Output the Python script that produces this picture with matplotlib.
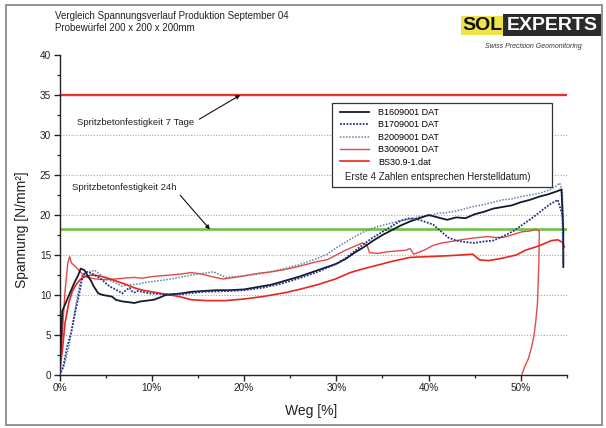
import matplotlib
matplotlib.use('Agg')
import matplotlib.pyplot as plt
from matplotlib.patches import Rectangle
from matplotlib.lines import Line2D
from matplotlib.ticker import MultipleLocator, FuncFormatter

plt.rcParams['font.family'] = ['Liberation Sans', 'DejaVu Sans']

# ---------------- data ----------------
title_line1 = "Vergleich Spannungsverlauf Produktion September 04"
title_line2 = "Probewürfel 200 x 200 x 200mm"
series_names = ["B1609001 DAT", "B1709001 DAT", "B2009001 DAT", "B3009001 DAT", "BS30.9-1.dat"]
legend_note = "Erste 4 Zahlen entsprechen Herstelldatum)"

b1609_x = [0, 0.3, 0.6, 1.0, 1.3, 1.6, 2.0, 2.3, 2.7, 3.0, 3.4, 3.7, 4.2, 4.7, 5.2, 5.7, 6.1, 6.8, 7.5,
           8.1, 8.8, 9.5, 10.2, 10.9, 11.5, 12.3, 13.2, 14.3, 15.6, 17.0, 18.4, 20.0, 21.5, 23.0, 24.5,
           26.0, 27.5, 29.0, 30.0, 31.0, 32.0, 33.0, 34.0, 35.0, 36.0, 37.0, 38.0, 39.0, 40.0, 41.0,
           42.0, 43.0, 44.0, 45.0, 46.0, 47.0, 48.0, 49.0, 50.0, 51.0, 52.0, 53.0, 54.0, 54.4, 54.6, 54.6]
b1609_y = [0, 8.0, 8.8, 9.9, 10.7, 11.5, 12.4, 13.3, 13.1, 12.5, 11.8, 11.1, 10.2, 10.0, 9.9, 9.8, 9.4,
           9.2, 9.1, 9.0, 9.2, 9.3, 9.4, 9.7, 10.0, 10.1, 10.2, 10.4, 10.5, 10.6, 10.6, 10.7, 11.0, 11.3,
           11.8, 12.3, 12.9, 13.5, 13.9, 14.5, 15.3, 16.0, 16.8, 17.5, 18.1, 18.7, 19.2, 19.6, 20.0, 19.7,
           19.4, 19.7, 19.6, 20.1, 20.4, 20.8, 21.0, 21.2, 21.6, 21.9, 22.3, 22.6, 23.0, 23.2, 18.0, 13.5]

b1709_x = [0, 0.4, 0.8, 1.3, 1.8, 2.2, 2.5, 3.0, 3.5, 4.4, 5.4, 6.4, 6.8, 7.2, 7.6, 7.9, 8.1, 8.5, 9.8,
           11.5, 13.2, 15.6, 18.4, 20, 22, 24, 26, 28, 30, 31, 32, 33, 34, 35, 36, 37, 38, 39, 40, 40.5,
           41.3, 42.1, 43, 44.1, 45, 46, 47, 48, 49.2, 50.2, 51.2, 52.2, 53.1, 54.0, 54.5, 54.6]
b1709_y = [0, 1.0, 3.4, 5.5, 8.4, 10.5, 12.5, 12.9, 12.7, 12.1, 11.1, 10.5, 10.2, 10.6, 10.9, 10.4, 10.3,
           10.5, 10.2, 10.1, 10.1, 10.4, 10.5, 10.6, 10.9, 11.4, 12.1, 12.9, 13.9, 14.6, 15.5, 16.4, 17.2,
           17.9, 18.6, 19.3, 19.6, 19.4, 19.0, 18.8, 18.0, 17.2, 16.8, 16.6, 16.5, 16.7, 16.8, 17.3, 18.0,
           18.8, 19.6, 20.5, 21.3, 21.9, 20.0, 14.0]

b2009_x = [0, 0.5, 1.0, 1.6, 2.2, 2.7, 3.3, 3.8, 4.7, 5.5, 6.1, 6.8, 7.5, 8.1, 9.5, 11.5, 13.0, 14.3,
           15.5, 16.7, 18.0, 20, 22, 24, 26, 28, 29, 30, 31, 32, 33, 34, 35, 36, 37, 38, 39, 40, 41, 42,
           43, 44, 45, 46, 47, 48, 49, 50, 51, 52, 53, 53.7, 54.2, 54.5, 54.6]
b2009_y = [0, 1.2, 3.4, 7.6, 11.3, 12.7, 12.9, 13.1, 12.3, 11.8, 11.5, 11.1, 11.3, 11.3, 11.6, 11.9,
           12.2, 12.5, 12.7, 12.9, 12.2, 12.4, 12.7, 13.2, 13.8, 14.6, 15.1, 15.9, 16.6, 17.3, 17.9, 18.4,
           18.7, 19.0, 19.3, 19.5, 19.8, 19.9, 20.2, 20.3, 20.5, 20.8, 21.1, 21.3, 21.6, 21.9, 22.0, 22.3,
           22.5, 22.7, 23.1, 23.5, 24.0, 23.0, 17.0]

b3009_x = [0, 0.3, 0.6, 0.9, 1.1, 1.3, 1.6, 2.0, 2.5, 3.0, 4.0, 5.0, 6.0, 7.0, 8.0, 9.0, 10.0, 11.0,
           12.0, 13.0, 14.3, 15.5, 16.5, 17.7, 19.0, 20.0, 21.5, 23.0, 24.5, 26.0, 28.0, 29.0, 30.0, 31.0,
           32.0, 32.8, 33.3, 33.6, 34.5, 35.5, 36.5, 37.5, 38.0, 38.4, 39.5, 40.5, 41.4, 42.5, 43.5, 44.7,
           45.5, 46.4, 47.2, 48.1, 49.0, 50.1, 51.0, 51.6, 52.0, 51.95, 51.8, 51.6, 51.4, 51.1, 50.8,
           50.4, 50.1]
b3009_y = [0, 5.0, 10.5, 14.0, 14.8, 14.0, 13.7, 13.2, 12.6, 12.2, 12.0, 11.9, 12.0, 12.1, 12.2, 12.1,
           12.3, 12.4, 12.5, 12.6, 12.8, 12.6, 12.3, 12.0, 12.2, 12.4, 12.7, 12.9, 13.2, 13.6, 14.2, 14.4,
           15.0, 15.6, 16.1, 16.5, 16.3, 15.3, 15.2, 15.4, 15.5, 15.6, 15.8, 15.1, 15.6, 16.2, 16.5, 16.7,
           16.9, 17.1, 17.2, 17.3, 17.2, 17.2, 17.5, 17.9, 18.0, 18.2, 18.0, 14.0, 9.0, 6.5, 4.8, 3.2, 2.0,
           1.0, 0.0]

bs309_x = [0, 0.3, 0.6, 1.0, 1.4, 1.8, 2.3, 2.8, 3.5, 4.2, 5.0, 6.0, 7.0, 8.1, 9.0, 10.0, 11.0, 12.0,
           13.0, 14.3, 16.0, 18.0, 20.0, 22.0, 24.5, 26.0, 28.0, 29.9, 31.5, 33.0, 34.7, 36.0, 38.0, 40.0,
           42.0, 43.5, 44.8, 45.5, 46.5, 48.0, 49.5, 50.5, 51.6, 52.5, 53.3, 54.0, 54.5, 54.7]
bs309_y = [0, 3.0, 6.5, 9.0, 10.5, 11.3, 12.0, 12.3, 12.5, 12.4, 12.2, 11.8, 11.4, 10.9, 10.6, 10.4,
           10.2, 10.0, 9.8, 9.4, 9.3, 9.3, 9.5, 9.8, 10.3, 10.7, 11.3, 12.0, 12.8, 13.3, 13.8, 14.2, 14.7,
           14.8, 14.9, 15.0, 15.1, 14.4, 14.3, 14.6, 15.0, 15.6, 16.0, 16.4, 16.8, 16.9, 16.6, 16.0]

limit_7d = 35.0
limit_24h = 18.2
label_7d = "Spritzbetonfestigkeit 7 Tage"
label_24h = "Spritzbetonfestigkeit 24h"
x_ticks = [0, 10, 20, 30, 40, 50]
y_ticks = [0, 5, 10, 15, 20, 25, 30, 35, 40]
grid_levels = [5, 10, 15, 20, 25, 30]

# ---------------- figure ----------------
W, H = 606, 428
fig = plt.figure(figsize=(W / 100, H / 100), dpi=100)
fig.patch.set_facecolor('white')

# outer frame
fig.patches.append(Rectangle((6 / W, 1 - 425 / H), 596 / W, 420 / H, transform=fig.transFigure,
                             fill=False, edgecolor='#8a8a8a', lw=1.3))

ax = fig.add_axes([59.5 / W, 1 - 375 / H, 507.5 / W, 320 / H])
ax.set_xlim(0, 55)
ax.set_ylim(0, 40)

for s in ['top', 'right']:
    ax.spines[s].set_visible(False)
for s in ['left', 'bottom']:
    ax.spines[s].set_linewidth(1.0)
    ax.spines[s].set_color('#222222')

ax.set_xticks(x_ticks)
ax.set_yticks(y_ticks)
ax.xaxis.set_minor_locator(MultipleLocator(5))
ax.yaxis.set_minor_locator(MultipleLocator(2.5))
ax.xaxis.set_major_formatter(FuncFormatter(lambda v, p: f"{v:.0f}%"))
ax.tick_params(axis='both', which='major', direction='out', length=4, width=1.0,
               labelsize=7.2, colors='#222222', pad=2)
ax.tick_params(axis='both', which='minor', direction='out', length=2.5, width=0.9, colors='#222222')

for lev in grid_levels:
    ax.axhline(lev, color='#a6a8b6', lw=0.8, ls=(0, (1, 1.5)), zorder=1)

ax.axhline(limit_7d, color='#e3342f', lw=1.7, zorder=2)
ax.axhline(limit_24h, color='#72c04a', lw=1.9, zorder=2)

l1, = ax.plot(b1609_x, b1609_y, color='#141a2a', lw=1.3, zorder=4)
l2, = ax.plot(b1709_x, b1709_y, color='#23308a', lw=1.3, ls=(0, (1, 0.8)), zorder=4)
l3, = ax.plot(b2009_x, b2009_y, color='#5f82a6', lw=1.1, ls=(0, (1, 1)), zorder=3)
l4, = ax.plot(b3009_x, b3009_y, color='#e04a4a', lw=1.0, zorder=3)
l5, = ax.plot(bs309_x, bs309_y, color='#e8261e', lw=1.2, zorder=3)

# legend box
ax.add_patch(Rectangle((0.537, 0.5875), 0.433, 0.2625, transform=ax.transAxes,
                       facecolor='white', edgecolor='#333333', lw=0.9, zorder=6))
leg = ax.legend([l1, l2, l3, l4, l5], series_names, loc='upper left',
                bbox_to_anchor=(0.553, 0.835), frameon=False, fontsize=6.5,
                handlelength=3.2, handletextpad=1.0, labelspacing=0.38, borderpad=0,
                borderaxespad=0)
leg.set_zorder(7)
ax.text(0.5626, 0.619, legend_note, transform=ax.transAxes, fontsize=7, va='center',
        ha='left', color='#222222', zorder=8)

# annotations
ax.annotate(label_7d, xy=(19.6, limit_7d), xytext=(1.9, 31.6), fontsize=6.8, color='#222222',
            va='center', ha='left',
            arrowprops=dict(arrowstyle='-|>', color='#111111', lw=0.8, mutation_scale=6,
                            shrinkA=2, shrinkB=0, relpos=(1, 0.5)))
ax.annotate(label_24h, xy=(16.3, limit_24h), xytext=(1.4, 23.5), fontsize=6.8, color='#222222',
            va='center', ha='left',
            arrowprops=dict(arrowstyle='-|>', color='#111111', lw=0.8, mutation_scale=6,
                            shrinkA=1, shrinkB=0, relpos=(1, 0)))

# axis labels
fig.text(22 / W, 1 - 230 / H, "Spannung [N/mm²]", rotation=90, fontsize=10, ha='center',
         va='center', color='#222222')
fig.text(311 / W, 1 - 411 / H, "Weg [%]", fontsize=10, ha='center', va='center', color='#222222')

# title
fig.text(55 / W, 1 - 16 / H, title_line1, fontsize=7, ha='left', va='center', color='#222222')
fig.text(55 / W, 1 - 28 / H, title_line2, fontsize=7, ha='left', va='center', color='#222222')

# logo
fig.patches.append(Rectangle((461 / W, 1 - 35 / H), 42 / W, 19 / H, transform=fig.transFigure,
                             facecolor='#efe24a', edgecolor='none'))
fig.patches.append(Rectangle((503 / W, 1 - 36 / H), 98 / W, 22 / H, transform=fig.transFigure,
                             facecolor='#2b2b2b', edgecolor='none'))
fig.text(482 / W, 1 - 25.5 / H, "SOL", fontsize=14, fontweight='bold', ha='center', va='center',
         color='#111111')
fig.text(552 / W, 1 - 25.5 / H, "EXPERTS", fontsize=14, fontweight='bold', ha='center',
         va='center', color='white')
fig.text(533 / W, 1 - 46 / H, "Swiss Precision Geomonitoring", fontsize=5, style='italic',
         ha='center', va='center', color='#333333')

fig.savefig('out.png', dpi=100)
